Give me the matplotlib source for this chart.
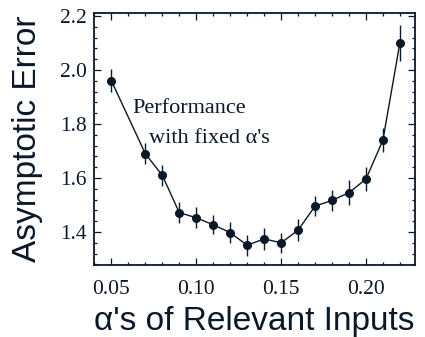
import matplotlib
matplotlib.use("Agg")
import matplotlib.pyplot as plt
from matplotlib.ticker import MultipleLocator

# valores
alpha = [0.05, 0.07, 0.08, 0.09, 0.10, 0.11, 0.12, 0.13, 0.14, 0.15,
         0.16, 0.17, 0.18, 0.19, 0.20, 0.21, 0.22]
erro = [1.96, 1.69, 1.61, 1.472, 1.453, 1.427, 1.398, 1.351, 1.375, 1.36,
        1.407, 1.496, 1.517, 1.546, 1.596, 1.74, 2.10]
barra = [0.042, 0.038, 0.04, 0.04, 0.038, 0.036, 0.038, 0.038, 0.04, 0.038,
         0.04, 0.038, 0.04, 0.045, 0.045, 0.045, 0.065]

cor = '#0b1828'

fig = plt.figure(figsize=(4.25, 3.37), dpi=100)
ax = fig.add_axes([0.221, 0.2136, 0.755, 0.747])

ax.errorbar(alpha, erro, yerr=barra, fmt='o-', color=cor, ms=5.5, lw=1.0,
            elinewidth=1.0, capsize=0)

ax.set_xlim(0.0397, 0.2288)
ax.set_ylim(1.278, 2.21)
ax.xaxis.set_minor_locator(MultipleLocator(0.01))
ax.yaxis.set_minor_locator(MultipleLocator(0.04))
ax.set_xticks([0.05, 0.10, 0.15, 0.20])
ax.set_xticklabels(['0.05', '0.10', '0.15', '0.20'])
ax.set_yticks([1.4, 1.6, 1.8, 2.0, 2.2])
ax.set_yticklabels(['1.4', '1.6', '1.8', '2.0', '2.2'])

ax.tick_params(which='both', direction='in', top=True, right=True, color=cor)
ax.tick_params(which='major', length=5, width=0.9, pad=5)
ax.tick_params(axis='x', which='major', pad=11)
ax.tick_params(which='minor', length=2, width=0.9)
for lab in ax.get_xticklabels() + ax.get_yticklabels():
    lab.set_family('Liberation Serif')
    lab.set_fontsize(15.5)
    lab.set_color(cor)
for s in ax.spines.values():
    s.set_color(cor)
    s.set_linewidth(1.3)

ax.set_xlabel("\u03b1's of Relevant Inputs", fontsize=24, family='Liberation Sans',
              color=cor, labelpad=5)
ax.set_ylabel("Asymptotic Error", fontsize=24, family='Liberation Sans',
              color=cor, labelpad=12)

ax.text(0.0621, 1.858, "Performance", fontsize=16, family='Liberation Serif',
        color=cor, va='center')
ax.text(0.072, 1.745, "with fixed \u03b1's", fontsize=16, family='Liberation Serif',
        color=cor, va='center')

fig.savefig("out.png", dpi=100)
